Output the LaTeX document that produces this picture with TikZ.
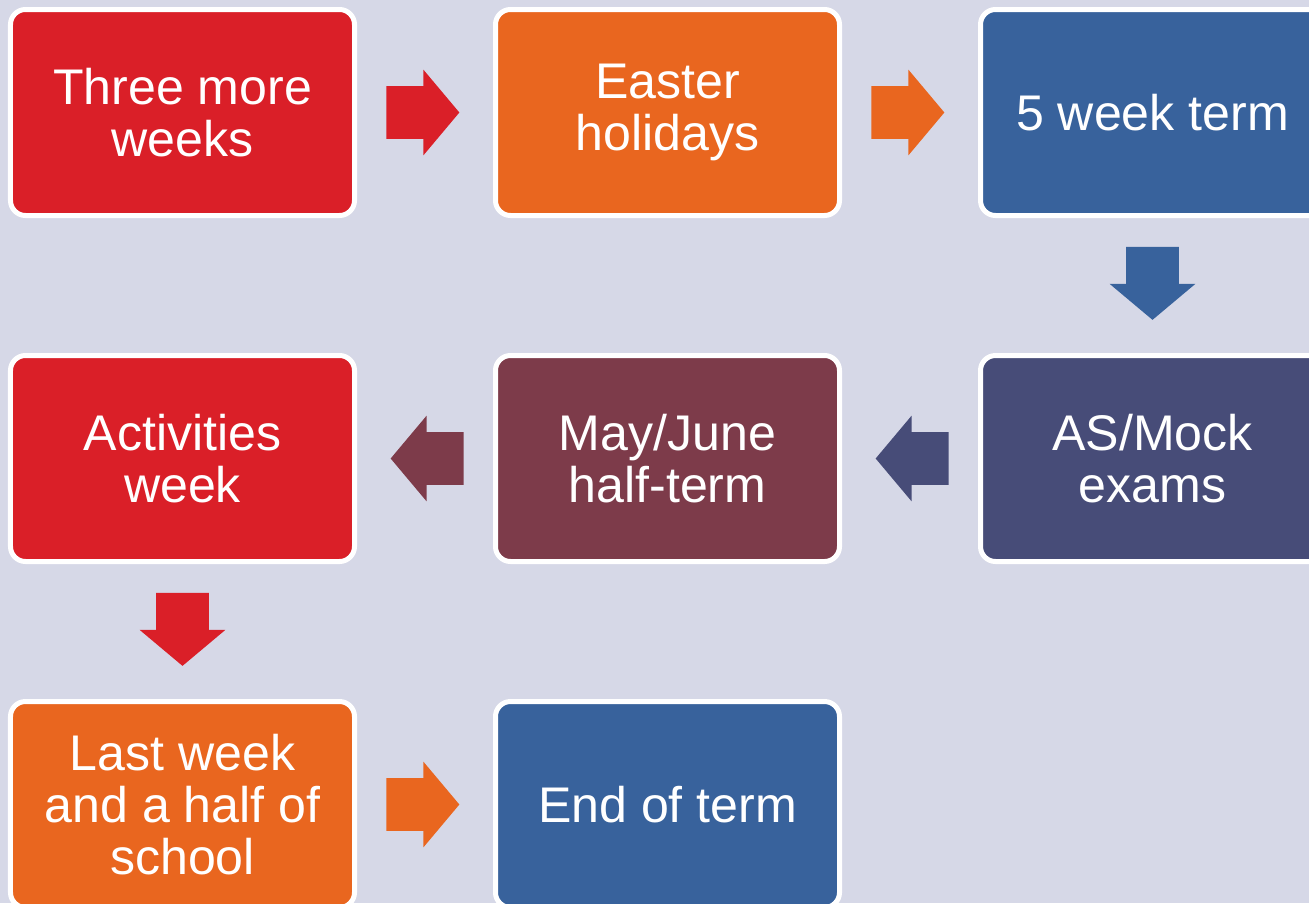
\documentclass[tikz,border=0pt]{standalone}
\usepackage{fontspec}
\setmainfont{Liberation Sans}
\usetikzlibrary{shapes.arrows, positioning, calc}

\definecolor{bgcol}{HTML}{D6D8E7}
\definecolor{termred}{HTML}{DA1F28}
\definecolor{termorange}{HTML}{E9661F}
\definecolor{termblue}{HTML}{38629C}
\definecolor{termslate}{HTML}{474C78}
\definecolor{termmaroon}{HTML}{7D3B4A}

\tikzstyle{termbox} = [rectangle, rounded corners=0.3cm, minimum width=6.88cm, minimum height=4.12cm, align=center, draw=white, line width=0.1cm, text=white, font=\fontsize{28.5}{29.5}\selectfont]
\tikzstyle{blockarrow} = [single arrow, draw=none, anchor=tail, single arrow head extend=0.33cm, single arrow tip angle=100, minimum height=1.46cm, inner xsep=0pt, inner ysep=0.52cm]

\begin{document}
\begin{tikzpicture}[node distance=2.7cm and 2.72cm]

    % Background
    \fill [bgcol] (0,0) rectangle (26.18,-18.06);
    \useasboundingbox (0,0) rectangle (26.18,-18.06);

    % Nodes
    \node (three) [termbox, fill=termred] at (3.65,-2.25) {Three more\\weeks};
    \node (easter) [termbox, fill=termorange, right=of three] {Easter\\holidays};
    \node (fiveweek) [termbox, fill=termblue, right=of easter] {5 week term};
    \node (mock) [termbox, fill=termslate, below=of fiveweek] {AS/Mock\\exams};
    \node (halfterm) [termbox, fill=termmaroon, below=of easter] {May/June\\half-term};
    \node (activities) [termbox, fill=termred, below=of three] {Activities\\week};
    \node (lastweek) [termbox, fill=termorange, below=of activities] {Last week\\and a half of\\school};
    \node (endterm) [termbox, fill=termblue, right=of lastweek] {End of term};

    % Arrows (placed by their tails)
    \node (a1) [blockarrow, fill=termred] at ($(three.east)!0.5!(easter.west) + (-0.78,0)$) {};
    \node (a2) [blockarrow, fill=termorange] at ($(easter.east)!0.5!(fiveweek.west) + (-0.78,0)$) {};
    \node (a3) [blockarrow, fill=termblue, rotate=-90] at ($(fiveweek.south)!0.5!(mock.north) + (0,0.78)$) {};
    \node (a4) [blockarrow, fill=termslate, rotate=180] at ($(mock.west)!0.5!(halfterm.east) + (0.78,0)$) {};
    \node (a5) [blockarrow, fill=termmaroon, rotate=180] at ($(halfterm.west)!0.5!(activities.east) + (0.78,0)$) {};
    \node (a6) [blockarrow, fill=termred, rotate=-90] at ($(activities.south)!0.5!(lastweek.north) + (0,0.78)$) {};
    \node (a7) [blockarrow, fill=termorange] at ($(lastweek.east)!0.5!(endterm.west) + (-0.78,0)$) {};

\end{tikzpicture}
\end{document}
